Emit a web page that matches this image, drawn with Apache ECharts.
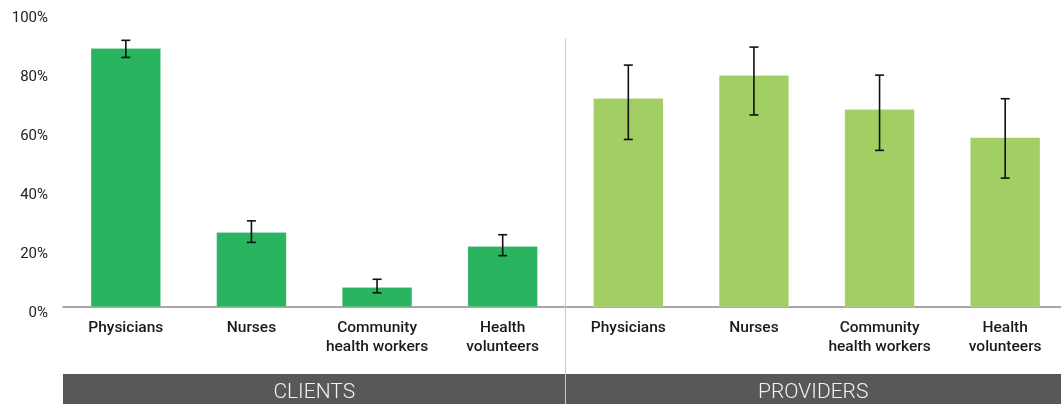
<!DOCTYPE html>
<html>
<head>
<meta charset="utf-8">
<style>
  html, body { margin: 0; padding: 0; background: #ffffff; }
  #chart { width: 1061px; height: 404px; }
</style>
<script src="https://cdn.jsdelivr.net/npm/echarts@6/dist/echarts.min.js"></script>
</head>
<body>
<div id="chart"></div>
<script>
// Professions asked about, repeated for each respondent group
const professions = ['Physicians', 'Nurses', 'Community\nhealth workers', 'Health\nvolunteers'];
const groups = ['CLIENTS', 'PROVIDERS'];

// Share (%) per profession, with the low / high ends of each error bar
const clientValues = [87.7, 25.3, 6.7, 20.6];
const clientLow    = [84.6, 21.9, 4.8, 17.4];
const clientHigh   = [90.4, 29.2, 9.4, 24.5];

const providerValues = [70.8, 78.6, 67.0, 57.5];
const providerLow    = [56.8, 65.1, 53.1, 43.7];
const providerHigh   = [82.0, 88.1, 78.6, 70.6];

const yTicks = [0, 20, 40, 60, 80, 100];

const clientColor = '#2ab45f';
const providerColor = '#a1cf64';

const categories = professions.concat(professions);
const values = clientValues.concat(providerValues);
const lows = clientLow.concat(providerLow);
const highs = clientHigh.concat(providerHigh);

const barData = values.map((v, i) => ({
  value: v,
  itemStyle: { color: i < professions.length ? clientColor : providerColor }
}));
const errData = values.map((v, i) => [i, lows[i], highs[i]]);

const chart = echarts.init(document.getElementById('chart'), null, { renderer: 'canvas' });

chart.setOption({
  animation: false,
  backgroundColor: '#ffffff',
  textStyle: { fontFamily: 'Roboto' },
  grid: { left: 63, top: 12, bottom: 97, width: 1005, outerBoundsMode: 'none', containLabel: false },
  xAxis: {
    type: 'category',
    data: categories,
    axisTick: { show: false },
    axisLine: { lineStyle: { color: '#8a8a8a', width: 1.5 } },
    axisLabel: {
      interval: 0,
      color: '#1a1a1a',
      fontSize: 15.5,
      fontWeight: 500,
      lineHeight: 19,
      margin: 12,
      fontFamily: 'Roboto'
    }
  },
  yAxis: {
    type: 'value',
    min: 0,
    max: 100,
    interval: 20,
    splitLine: { show: false },
    axisLine: { show: false },
    axisTick: { show: false },
    axisLabel: {
      color: '#222222',
      fontSize: 15,
      margin: 15,
      verticalAlign: 'top',
      lineHeight: 12,
      fontFamily: 'Roboto',
      formatter: v => (yTicks.indexOf(v) >= 0 ? v + '%' : '')
    }
  },
  series: [
    {
      type: 'bar',
      data: barData,
      barWidth: 70,
      itemStyle: { borderColor: 'rgba(255,255,255,0.35)', borderWidth: 0.5 }
    },
    {
      type: 'custom',
      data: errData,
      z: 10,
      renderItem: function (params, api) {
        const idx = api.value(0);
        const top = api.coord([idx, api.value(2)]);
        const bot = api.coord([idx, api.value(1)]);
        const cap = 4.5;
        const style = { stroke: '#111111', lineWidth: 1.6 };
        return {
          type: 'group',
          children: [
            { type: 'line', shape: { x1: top[0], y1: top[1], x2: bot[0], y2: bot[1] }, style: style },
            { type: 'line', shape: { x1: top[0] - cap, y1: top[1], x2: top[0] + cap, y2: top[1] }, style: style },
            { type: 'line', shape: { x1: bot[0] - cap, y1: bot[1], x2: bot[0] + cap, y2: bot[1] }, style: style }
          ]
        };
      }
    }
  ]
});

// Group bands below the axis and the divider between the two groups
const c0 = chart.convertToPixel({ xAxisIndex: 0 }, 0);
const c1 = chart.convertToPixel({ xAxisIndex: 0 }, 1);
const step = c1 - c0;
const left = c0 - step / 2;
const mid = left + step * professions.length;
const right = Math.min(left + step * categories.length, 1061);
const dividerTop = chart.convertToPixel({ yAxisIndex: 0 }, 91);
const bandTop = 374;
const bandBottom = 404;

chart.setOption({
  graphic: [
    {
      type: 'rect',
      shape: { x: left, y: bandTop, width: right - left, height: bandBottom - bandTop },
      style: { fill: '#58585a' },
      z: 1
    },
    {
      type: 'text',
      x: (left + mid) / 2, y: (bandTop + bandBottom) / 2 + 4,
      style: { text: groups[0], fill: '#f2f2f2', font: '300 21px Roboto', align: 'center', verticalAlign: 'middle' },
      z: 2
    },
    {
      type: 'text',
      x: (mid + right) / 2, y: (bandTop + bandBottom) / 2 + 4,
      style: { text: groups[1], fill: '#f2f2f2', font: '300 21px Roboto', align: 'center', verticalAlign: 'middle' },
      z: 2
    },
    {
      type: 'line',
      shape: { x1: mid, y1: dividerTop, x2: mid, y2: bandBottom },
      style: { stroke: '#c8c8c8', lineWidth: 1 },
      z: 3
    }
  ]
});
</script>
</body>
</html>
